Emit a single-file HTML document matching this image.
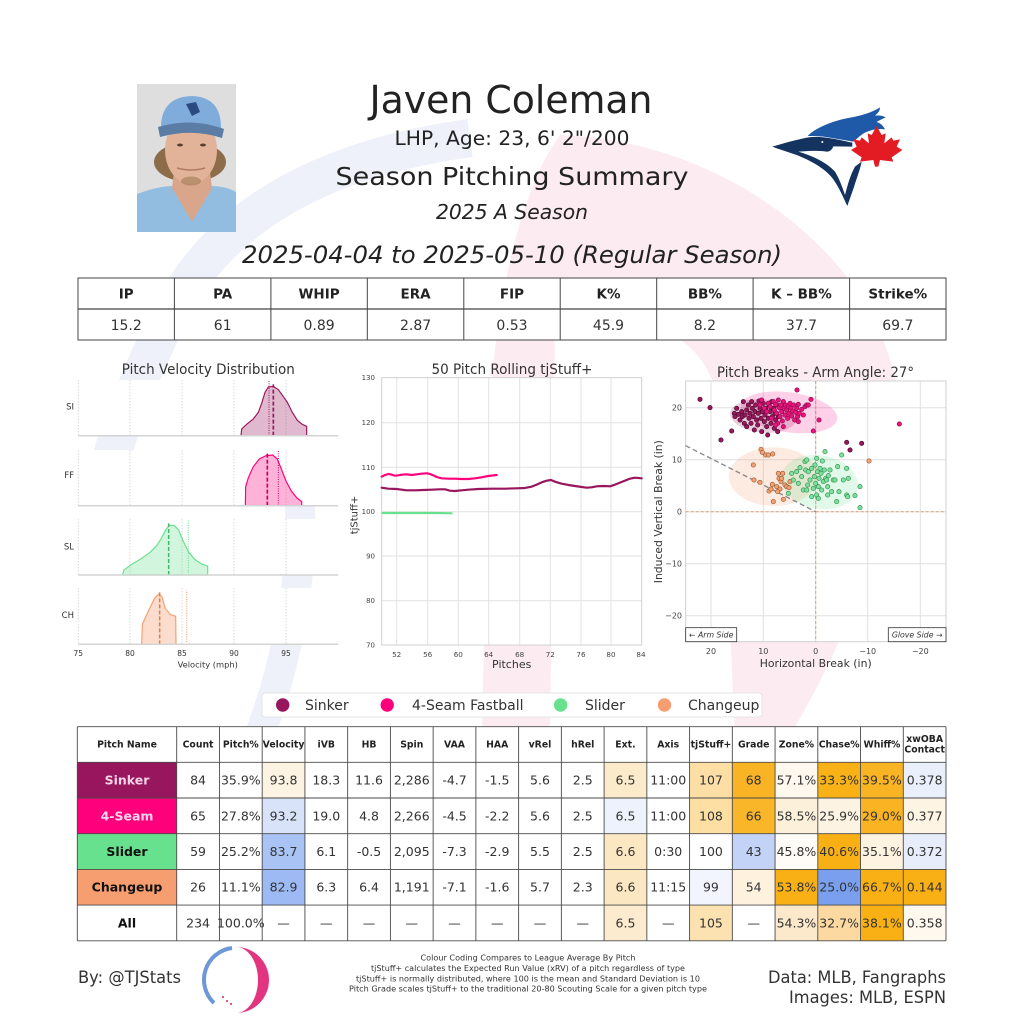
<!DOCTYPE html>
<html><head><meta charset="utf-8"><style>
html,body{margin:0;padding:0;background:#fff;width:1024px;height:1024px;overflow:hidden;}
svg{display:block;}
text{font-family:"DejaVu Sans","Liberation Sans",sans-serif;}
</style></head><body>
<svg width="1024" height="1024" viewBox="0 0 1024 1024" xmlns="http://www.w3.org/2000/svg">
<rect width="1024" height="1024" fill="#fff"/>

<!-- watermark -->
<path d="M470,138 Q240,170 168,318 Q125,405 108,470" fill="none" stroke="#eef0fa" stroke-width="38"/>
<path d="M298,475 Q310,600 258,740" fill="none" stroke="#eef0fa" stroke-width="30"/>
<path d="M560,135 C720,140 870,250 895,380 C905,480 860,620 790,735 L735,735 C728,600 725,450 712,380 C690,320 600,300 555,330 L550,735 L482,735 L488,430 C495,300 520,190 560,135 Z" fill="#fcecf2"/>

<!-- photo -->
<rect x="137" y="84" width="99" height="148" fill="#dedede"/>
<ellipse cx="190" cy="162" rx="36" ry="20" fill="#8d6c4a"/>
<path d="M137,194 Q158,186 174,186 L192,220 L210,186 Q226,186 236,192 L236,232 L137,232 Z" fill="#92bde0"/>
<path d="M174,172 L210,172 L212,188 L192,222 L172,188 Z" fill="#d9a68c"/>
<ellipse cx="191" cy="150" rx="26" ry="34" fill="#e2b398"/>
<ellipse cx="191" cy="181" rx="10" ry="4.5" fill="#9a7350" opacity=".55"/>
<ellipse cx="180" cy="145" rx="3" ry="1.5" fill="#5a4030"/>
<ellipse cx="203" cy="145" rx="3" ry="1.5" fill="#5a4030"/>
<path d="M177,168 Q191,172 205,168" fill="none" stroke="#b07a66" stroke-width="1.5"/>
<path d="M161,130 Q160,97 192,96 Q222,97 221,130 Z" fill="#80acdb"/>
<path d="M158,127 Q192,117 224,129 L222,138 Q192,128 160,137 Z" fill="#5a7ca5"/>
<path d="M186,104 L196,102 L200,112 L192,116 Z" fill="#2a4a80"/>

<!-- Blue Jays logo -->
<g transform="translate(765,100) scale(0.3333)">
<path d="M128,108 C150,85 200,62 260,52 C290,46 320,38 345,22 C345,35 335,42 330,47 C345,45 355,48 362,52 C350,58 340,62 335,66 C348,70 355,78 360,88 C340,85 320,88 300,98 C285,106 275,118 265,125 L190,112 C165,108 145,108 128,108 Z" fill="#1e5aa8"/>
<path d="M22,140 C60,128 100,118 130,112 C160,108 190,112 262,128 L262,140 L205,139 C200,152 190,157 180,154 C160,152 130,152 100,155 C145,168 185,188 210,215 C225,240 233,265 240,285 C248,255 256,225 270,200 L290,185 C285,210 275,235 268,258 L247,318 C235,292 222,262 205,238 C185,210 145,185 95,165 C65,155 42,148 22,140 Z" fill="#14335f"/>
<ellipse cx="175" cy="128" rx="16" ry="11" fill="#14335f"/>
<circle cx="172" cy="126" r="3" fill="#fff"/>
<polygon points="335,78 350,105 362,100 358,130 380,112 385,122 405,118 395,140 412,150 380,172 385,185 345,180 340,200 330,200 325,180 285,185 290,172 258,150 275,140 265,118 285,122 290,112 312,130 308,100 320,105" fill="#e31b23"/>
</g>

<!-- header text -->
<text x="511" y="113" font-size="38" text-anchor="middle" fill="#222" textLength="283" lengthAdjust="spacingAndGlyphs">Javen Coleman</text>
<text x="512" y="145" font-size="19.5" text-anchor="middle" fill="#222" textLength="235" lengthAdjust="spacingAndGlyphs">LHP, Age: 23, 6' 2"/200</text>
<text x="512" y="185" font-size="24.5" text-anchor="middle" fill="#222" textLength="353" lengthAdjust="spacingAndGlyphs">Season Pitching Summary</text>
<text x="512" y="219" font-size="20" font-style="italic" text-anchor="middle" fill="#222" textLength="152" lengthAdjust="spacingAndGlyphs">2025 A Season</text>
<text x="512" y="263" font-size="24" font-style="italic" text-anchor="middle" fill="#222" textLength="540" lengthAdjust="spacingAndGlyphs">2025-04-04 to 2025-05-10 (Regular Season)</text>

<!-- stats table -->
<rect x="78" y="278" width="868" height="62" fill="#fff" stroke="#444" stroke-width="1"/>
<line x1="78" y1="309" x2="946" y2="309" stroke="#444" stroke-width="1.2"/>
<g stroke="#444" stroke-width="1">
<line x1="174.4" y1="278" x2="174.4" y2="340"/><line x1="270.9" y1="278" x2="270.9" y2="340"/>
<line x1="367.3" y1="278" x2="367.3" y2="340"/><line x1="463.8" y1="278" x2="463.8" y2="340"/>
<line x1="560.2" y1="278" x2="560.2" y2="340"/><line x1="656.7" y1="278" x2="656.7" y2="340"/>
<line x1="753.1" y1="278" x2="753.1" y2="340"/><line x1="849.6" y1="278" x2="849.6" y2="340"/>
</g>
<g font-size="13.5" font-weight="bold" text-anchor="middle" fill="#222">
<text x="126.2" y="298.5">IP</text><text x="222.7" y="298.5">PA</text><text x="319.1" y="298.5">WHIP</text>
<text x="415.6" y="298.5">ERA</text><text x="512" y="298.5">FIP</text><text x="608.5" y="298.5">K%</text>
<text x="704.9" y="298.5">BB%</text><text x="801.4" y="298.5">K – BB%</text><text x="897.8" y="298.5">Strike%</text>
</g>
<g font-size="14" text-anchor="middle" fill="#333">
<text x="126.2" y="330">15.2</text><text x="222.7" y="330">61</text><text x="319.1" y="330">0.89</text>
<text x="415.6" y="330">2.87</text><text x="512" y="330">0.53</text><text x="608.5" y="330">45.9</text>
<text x="704.9" y="330">8.2</text><text x="801.4" y="330">37.7</text><text x="897.8" y="330">69.7</text>
</g>

<!-- ===== Velocity distribution ===== -->
<text x="208.3" y="374" font-size="14" text-anchor="middle" fill="#333" textLength="173" lengthAdjust="spacingAndGlyphs">Pitch Velocity Distribution</text>
<g fill="#fff">
<rect x="78" y="380" width="261" height="56"/>
<rect x="78" y="450" width="261" height="56"/>
<rect x="78" y="519" width="261" height="56"/>
<rect x="78" y="588" width="261" height="56"/>
</g>
<g stroke="#cfcfcf" stroke-width="0.8" stroke-dasharray="1.5,1.5">
<line x1="78.3" y1="380" x2="78.3" y2="436"/><line x1="130" y1="380" x2="130" y2="436"/><line x1="182" y1="380" x2="182" y2="436"/><line x1="234" y1="380" x2="234" y2="436"/><line x1="286" y1="380" x2="286" y2="436"/>
<line x1="78.3" y1="450" x2="78.3" y2="506"/><line x1="130" y1="450" x2="130" y2="506"/><line x1="182" y1="450" x2="182" y2="506"/><line x1="234" y1="450" x2="234" y2="506"/><line x1="286" y1="450" x2="286" y2="506"/>
<line x1="78.3" y1="519" x2="78.3" y2="575"/><line x1="130" y1="519" x2="130" y2="575"/><line x1="182" y1="519" x2="182" y2="575"/><line x1="234" y1="519" x2="234" y2="575"/><line x1="286" y1="519" x2="286" y2="575"/>
<line x1="78.3" y1="588" x2="78.3" y2="644"/><line x1="130" y1="588" x2="130" y2="644"/><line x1="182" y1="588" x2="182" y2="644"/><line x1="234" y1="588" x2="234" y2="644"/><line x1="286" y1="588" x2="286" y2="644"/>
</g>
<g transform="translate(60,355) scale(0.33333)">
<path d="M543,242 L545,222 L560,208 L580,192 L595,172 L605,145 L615,112 L625,96 L640,94 L655,104 L668,122 L682,142 L697,172 L712,196 L727,208 L740,214 L740,242 Z" fill="#98165D" fill-opacity="0.3" stroke="#98165D" stroke-width="3.5"/>
<line x1="640" y1="242" x2="640" y2="88" stroke="#98165D" stroke-width="5" stroke-dasharray="12,6"/>
<line x1="627" y1="242" x2="627" y2="78" stroke="#98165D" stroke-width="3" stroke-dasharray="3,4"/>
<path d="M556,452 L557,395 L565,368 L580,335 L598,312 L618,302 L638,300 L652,312 L664,342 L678,378 L694,408 L710,428 L725,440 L725,452 Z" fill="#FF007D" fill-opacity="0.3" stroke="#FF007D" stroke-width="3.5"/>
<line x1="622" y1="452" x2="622" y2="295" stroke="#c0005e" stroke-width="5" stroke-dasharray="12,6"/>
<line x1="655" y1="452" x2="655" y2="285" stroke="#d0006a" stroke-width="3" stroke-dasharray="3,4"/>
<path d="M187,660 L192,645 L215,628 L245,610 L270,592 L290,572 L305,548 L318,523 L328,511 L342,511 L356,525 L368,555 L385,590 L405,614 L425,627 L443,633 L443,660 Z" fill="#67E18D" fill-opacity="0.3" stroke="#67E18D" stroke-width="3.5"/>
<line x1="326" y1="660" x2="326" y2="505" stroke="#3fb868" stroke-width="4.5" stroke-dasharray="12,6"/>
<line x1="385" y1="660" x2="385" y2="495" stroke="#67E18D" stroke-width="3" stroke-dasharray="3,4"/>
<path d="M245,868 L247,808 L256,788 L270,758 L285,728 L297,717 L306,725 L315,758 L330,778 L347,784 L348,868 Z" fill="#F79E70" fill-opacity="0.35" stroke="#F79E70" stroke-width="3.5"/>
<line x1="299" y1="868" x2="299" y2="712" stroke="#d9804f" stroke-width="4.5" stroke-dasharray="12,6"/>
<line x1="380" y1="868" x2="380" y2="705" stroke="#F79E70" stroke-width="3" stroke-dasharray="3,4"/>
</g>
<g stroke="#d4d4d4" stroke-width="1.5">
<line x1="78.3" y1="435.7" x2="338.3" y2="435.7"/><line x1="78.3" y1="505.7" x2="338.3" y2="505.7"/>
<line x1="78.3" y1="575" x2="338.3" y2="575"/><line x1="78.3" y1="644.3" x2="338.3" y2="644.3"/>
</g>
<g font-size="8.5" text-anchor="end" fill="#333">
<text x="74" y="409.7">SI</text><text x="74" y="478">FF</text><text x="74" y="549.7">SL</text><text x="74" y="618">CH</text>
</g>
<g font-size="7.5" text-anchor="middle" fill="#333">
<text x="78.3" y="656">75</text><text x="130" y="656">80</text><text x="182" y="656">85</text><text x="234" y="656">90</text><text x="286" y="656">95</text>
</g>
<text x="207.7" y="667.5" font-size="8.3" text-anchor="middle" fill="#333">Velocity (mph)</text>

<!-- ===== Rolling tjStuff+ ===== -->
<text x="512" y="374" font-size="14.5" text-anchor="middle" fill="#333" textLength="161" lengthAdjust="spacingAndGlyphs">50 Pitch Rolling tjStuff+</text>
<rect x="381.7" y="377.7" width="260" height="267.3" fill="#fff"/>
<g stroke="#e2e2e2" stroke-width="1">
<line x1="396.7" y1="377.7" x2="396.7" y2="645"/><line x1="427.7" y1="377.7" x2="427.7" y2="645"/>
<line x1="458.3" y1="377.7" x2="458.3" y2="645"/><line x1="488.7" y1="377.7" x2="488.7" y2="645"/>
<line x1="519.7" y1="377.7" x2="519.7" y2="645"/><line x1="550.3" y1="377.7" x2="550.3" y2="645"/>
<line x1="581" y1="377.7" x2="581" y2="645"/><line x1="611" y1="377.7" x2="611" y2="645"/>
<line x1="381.7" y1="422.7" x2="641.7" y2="422.7"/><line x1="381.7" y1="467.3" x2="641.7" y2="467.3"/>
<line x1="381.7" y1="511.7" x2="641.7" y2="511.7"/><line x1="381.7" y1="556" x2="641.7" y2="556"/>
<line x1="381.7" y1="600.7" x2="641.7" y2="600.7"/>
</g>
<rect x="381.7" y="377.7" width="260" height="267.3" fill="none" stroke="#d0d0d0" stroke-width="1"/>
<g transform="translate(335,355) scale(0.33333)" fill="none" stroke-linejoin="round" stroke-linecap="round">
<polyline points="140,365 150,360 160,357 170,359 180,362 190,361 200,359 215,358 230,360 245,358 260,356 275,355 285,357 295,361 305,366 320,370 340,371 360,371 380,372 400,372 420,370 440,367 460,363 485,360" stroke="#FF007D" stroke-width="6.5"/>
<polyline points="140,398 160,401 185,402 200,404 215,406 240,406 265,405 290,404 315,403 330,403 345,407 360,408 380,406 400,404 430,402 470,401 510,401 545,400 570,399 590,395 605,389 620,382 635,377 648,375 660,380 680,386 700,390 720,393 740,396 755,398 770,397 785,394 805,393 825,394 840,389 855,383 870,377 885,371 900,368 920,370" stroke="#98165D" stroke-width="6.5"/>
<polyline points="143,474 200,474 260,474 300,474 350,475" stroke="#67E18D" stroke-width="6.5"/>
</g>
<g font-size="7" text-anchor="end" fill="#444">
<text x="375" y="380.2">130</text><text x="375" y="425.2">120</text><text x="375" y="469.8">110</text>
<text x="375" y="514.2">100</text><text x="375" y="558.5">90</text><text x="375" y="603.2">80</text><text x="375" y="647.5">70</text>
</g>
<g font-size="7.2" text-anchor="middle" fill="#444">
<text x="396.7" y="656.8">52</text><text x="427.7" y="656.8">56</text><text x="458.3" y="656.8">60</text>
<text x="488.7" y="656.8">64</text><text x="519.7" y="656.8">68</text><text x="550.3" y="656.8">72</text>
<text x="581" y="656.8">76</text><text x="611" y="656.8">80</text><text x="641" y="656.8">84</text>
</g>
<text x="511.7" y="668" font-size="11" text-anchor="middle" fill="#333">Pitches</text>
<text transform="translate(357.5,515) rotate(-90)" font-size="10" text-anchor="middle" fill="#333">tjStuff+</text>

<!-- ===== Pitch Breaks ===== -->
<text x="815.5" y="377" font-size="14" text-anchor="middle" fill="#333" textLength="197" lengthAdjust="spacingAndGlyphs">Pitch Breaks - Arm Angle: 27°</text>
<rect x="685.7" y="381" width="260.3" height="260.7" fill="#fff"/>
<g stroke="#e0e0e0" stroke-width="1">
<line x1="711" y1="381" x2="711" y2="641.7"/><line x1="763.3" y1="381" x2="763.3" y2="641.7"/>
<line x1="867.7" y1="381" x2="867.7" y2="641.7"/><line x1="920.3" y1="381" x2="920.3" y2="641.7"/>
<line x1="685.7" y1="407.7" x2="946" y2="407.7"/><line x1="685.7" y1="459.7" x2="946" y2="459.7"/>
<line x1="685.7" y1="563.7" x2="946" y2="563.7"/><line x1="685.7" y1="615.7" x2="946" y2="615.7"/>
<line x1="815.7" y1="381" x2="815.7" y2="641.7"/><line x1="685.7" y1="511.7" x2="946" y2="511.7"/>
</g>
<rect x="685.7" y="381" width="260.3" height="260.7" fill="none" stroke="#d0d0d0" stroke-width="1"/>
<line x1="685.7" y1="511.7" x2="946" y2="511.7" stroke="#d9a07c" stroke-width="1" stroke-dasharray="3,2"/>
<line x1="815.7" y1="381" x2="815.7" y2="641.7" stroke="#d9a07c" stroke-width="1" stroke-dasharray="3,2"/>
<g transform="translate(645,355) scale(0.33333)">
<ellipse cx="432" cy="172" rx="146" ry="60" transform="rotate(8 432 172)" fill="#FF007D" fill-opacity="0.18"/>
<ellipse cx="355" cy="183" rx="100" ry="50" transform="rotate(5 355 183)" fill="#98165D" fill-opacity="0.2"/>
<ellipse cx="386" cy="365" rx="134" ry="88" fill="#F79E70" fill-opacity="0.22"/>
<ellipse cx="524" cy="381" rx="116" ry="80" transform="rotate(10 524 381)" fill="#67E18D" fill-opacity="0.2"/>
<line x1="122" y1="272" x2="512" y2="470" stroke="#888" stroke-width="4" stroke-dasharray="15,9"/>
<g fill="#f2a272" stroke="#9b5a35" stroke-width="2">
<circle cx="325" cy="330" r="6.5"/><circle cx="348" cy="283" r="6.5"/><circle cx="352" cy="292" r="6.5"/><circle cx="362" cy="300" r="6.5"/><circle cx="370" cy="300" r="6.5"/><circle cx="383" cy="297" r="6.5"/><circle cx="327" cy="375" r="6.5"/><circle cx="345" cy="382" r="6.5"/><circle cx="372" cy="408" r="6.5"/><circle cx="378" cy="402" r="6.5"/><circle cx="382" cy="388" r="6.5"/><circle cx="395" cy="395" r="6.5"/><circle cx="400" cy="355" r="6.5"/><circle cx="402" cy="370" r="6.5"/><circle cx="405" cy="402" r="6.5"/><circle cx="408" cy="380" r="6.5"/><circle cx="413" cy="355" r="6.5"/><circle cx="420" cy="390" r="6.5"/><circle cx="425" cy="395" r="6.5"/><circle cx="432" cy="398" r="6.5"/><circle cx="385" cy="440" r="6.5"/><circle cx="415" cy="433" r="6.5"/><circle cx="398" cy="410" r="6.5"/><circle cx="435" cy="380" r="6.5"/><circle cx="672" cy="318" r="6.5"/><circle cx="410" cy="370" r="6.5"/>
</g>
<g fill="#7fe09e" stroke="#2f8f50" stroke-width="2">
<circle cx="430" cy="415" r="6.5"/><circle cx="440" cy="355" r="6.5"/><circle cx="445" cy="375" r="6.5"/><circle cx="455" cy="350" r="6.5"/><circle cx="460" cy="385" r="6.5"/><circle cx="465" cy="338" r="6.5"/><circle cx="470" cy="365" r="6.5"/><circle cx="475" cy="405" r="6.5"/><circle cx="480" cy="320" r="6.5"/><circle cx="482" cy="345" r="6.5"/><circle cx="485" cy="315" r="6.5"/><circle cx="488" cy="390" r="6.5"/><circle cx="490" cy="350" r="6.5"/><circle cx="495" cy="375" r="6.5"/><circle cx="500" cy="340" r="6.5"/><circle cx="505" cy="400" r="6.5"/><circle cx="508" cy="365" r="6.5"/><circle cx="510" cy="330" r="6.5"/><circle cx="512" cy="385" r="6.5"/><circle cx="515" cy="310" r="6.5"/><circle cx="515" cy="420" r="6.5"/><circle cx="518" cy="350" r="6.5"/><circle cx="520" cy="395" r="6.5"/><circle cx="522" cy="370" r="6.5"/><circle cx="525" cy="340" r="6.5"/><circle cx="528" cy="355" r="6.5"/><circle cx="530" cy="405" r="6.5"/><circle cx="532" cy="318" r="6.5"/><circle cx="535" cy="380" r="6.5"/><circle cx="538" cy="345" r="6.5"/><circle cx="540" cy="290" r="6.5"/><circle cx="542" cy="370" r="6.5"/><circle cx="545" cy="375" r="6.5"/><circle cx="548" cy="395" r="6.5"/><circle cx="550" cy="362" r="6.5"/><circle cx="555" cy="345" r="6.5"/><circle cx="560" cy="410" r="6.5"/><circle cx="565" cy="375" r="6.5"/><circle cx="570" cy="375" r="6.5"/><circle cx="575" cy="440" r="6.5"/><circle cx="578" cy="335" r="6.5"/><circle cx="582" cy="410" r="6.5"/><circle cx="590" cy="300" r="6.5"/><circle cx="595" cy="375" r="6.5"/><circle cx="605" cy="340" r="6.5"/><circle cx="605" cy="420" r="6.5"/><circle cx="608" cy="425" r="6.5"/><circle cx="610" cy="370" r="6.5"/><circle cx="630" cy="422" r="6.5"/><circle cx="645" cy="395" r="6.5"/><circle cx="645" cy="458" r="6.5"/><circle cx="485" cy="405" r="6.5"/><circle cx="500" cy="425" r="6.5"/><circle cx="520" cy="430" r="6.5"/><circle cx="548" cy="420" r="6.5"/>
</g>
<g fill="#98165D" stroke="#4a0a2d" stroke-width="2">
<circle cx="165" cy="133" r="6.5"/><circle cx="195" cy="158" r="6.5"/><circle cx="228" cy="255" r="6.5"/><circle cx="260" cy="228" r="6.5"/><circle cx="268" cy="175" r="6.5"/><circle cx="270" cy="185" r="6.5"/><circle cx="275" cy="160" r="6.5"/><circle cx="280" cy="178" r="6.5"/><circle cx="285" cy="195" r="6.5"/><circle cx="290" cy="170" r="6.5"/><circle cx="292" cy="185" r="6.5"/><circle cx="295" cy="140" r="6.5"/><circle cx="298" cy="205" r="6.5"/><circle cx="300" cy="180" r="6.5"/><circle cx="305" cy="165" r="6.5"/><circle cx="305" cy="215" r="6.5"/><circle cx="310" cy="150" r="6.5"/><circle cx="312" cy="190" r="6.5"/><circle cx="315" cy="175" r="6.5"/><circle cx="318" cy="205" r="6.5"/><circle cx="320" cy="140" r="6.5"/><circle cx="322" cy="160" r="6.5"/><circle cx="325" cy="185" r="6.5"/><circle cx="328" cy="225" r="6.5"/><circle cx="330" cy="170" r="6.5"/><circle cx="332" cy="150" r="6.5"/><circle cx="335" cy="195" r="6.5"/><circle cx="338" cy="210" r="6.5"/><circle cx="340" cy="175" r="6.5"/><circle cx="342" cy="138" r="6.5"/><circle cx="345" cy="160" r="6.5"/><circle cx="348" cy="190" r="6.5"/><circle cx="350" cy="230" r="6.5"/><circle cx="352" cy="170" r="6.5"/><circle cx="355" cy="145" r="6.5"/><circle cx="358" cy="200" r="6.5"/><circle cx="360" cy="180" r="6.5"/><circle cx="362" cy="160" r="6.5"/><circle cx="365" cy="215" r="6.5"/><circle cx="368" cy="240" r="6.5"/><circle cx="370" cy="190" r="6.5"/><circle cx="372" cy="150" r="6.5"/><circle cx="375" cy="170" r="6.5"/><circle cx="378" cy="205" r="6.5"/><circle cx="380" cy="140" r="6.5"/><circle cx="382" cy="185" r="6.5"/><circle cx="385" cy="160" r="6.5"/><circle cx="388" cy="220" r="6.5"/><circle cx="390" cy="175" r="6.5"/><circle cx="392" cy="195" r="6.5"/><circle cx="395" cy="150" r="6.5"/><circle cx="398" cy="230" r="6.5"/><circle cx="400" cy="185" r="6.5"/><circle cx="605" cy="262" r="6.5"/><circle cx="615" cy="285" r="6.5"/><circle cx="650" cy="265" r="6.5"/>
</g>
<g fill="#e8137c" stroke="#8e0a4c" stroke-width="2">
<circle cx="345" cy="150" r="6.5"/><circle cx="350" cy="135" r="6.5"/><circle cx="358" cy="160" r="6.5"/><circle cx="365" cy="170" r="6.5"/><circle cx="370" cy="145" r="6.5"/><circle cx="375" cy="155" r="6.5"/><circle cx="380" cy="190" r="6.5"/><circle cx="385" cy="140" r="6.5"/><circle cx="388" cy="165" r="6.5"/><circle cx="392" cy="148" r="6.5"/><circle cx="395" cy="175" r="6.5"/><circle cx="398" cy="205" r="6.5"/><circle cx="400" cy="135" r="6.5"/><circle cx="403" cy="158" r="6.5"/><circle cx="405" cy="185" r="6.5"/><circle cx="408" cy="150" r="6.5"/><circle cx="410" cy="170" r="6.5"/><circle cx="412" cy="198" r="6.5"/><circle cx="415" cy="140" r="6.5"/><circle cx="418" cy="160" r="6.5"/><circle cx="420" cy="180" r="6.5"/><circle cx="422" cy="150" r="6.5"/><circle cx="425" cy="165" r="6.5"/><circle cx="428" cy="190" r="6.5"/><circle cx="430" cy="155" r="6.5"/><circle cx="432" cy="175" r="6.5"/><circle cx="435" cy="145" r="6.5"/><circle cx="438" cy="160" r="6.5"/><circle cx="440" cy="183" r="6.5"/><circle cx="443" cy="168" r="6.5"/><circle cx="446" cy="150" r="6.5"/><circle cx="449" cy="195" r="6.5"/><circle cx="452" cy="172" r="6.5"/><circle cx="455" cy="160" r="6.5"/><circle cx="458" cy="185" r="6.5"/><circle cx="460" cy="148" r="6.5"/><circle cx="463" cy="175" r="6.5"/><circle cx="470" cy="163" r="6.5"/><circle cx="475" cy="180" r="6.5"/><circle cx="480" cy="155" r="6.5"/><circle cx="485" cy="150" r="6.5"/><circle cx="490" cy="150" r="6.5"/><circle cx="456" cy="105" r="6.5"/><circle cx="498" cy="133" r="6.5"/><circle cx="505" cy="228" r="6.5"/><circle cx="522" cy="195" r="6.5"/><circle cx="415" cy="215" r="6.5"/><circle cx="392" cy="210" r="6.5"/><circle cx="460" cy="200" r="6.5"/><circle cx="763" cy="207" r="6.5"/>
</g>
</g>
<rect x="685.7" y="627.7" width="51" height="14" fill="#fff" stroke="#333" stroke-width="0.8"/>
<text x="711.2" y="637.6" font-size="7.8" font-style="italic" text-anchor="middle" fill="#333">← Arm Side</text>
<rect x="888.3" y="627.7" width="57.7" height="14" fill="#fff" stroke="#333" stroke-width="0.8"/>
<text x="917.2" y="637.6" font-size="7.8" font-style="italic" text-anchor="middle" fill="#333">Glove Side →</text>
<g font-size="8" text-anchor="end" fill="#444">
<text x="682" y="410.7">20</text><text x="682" y="462.7">10</text><text x="682" y="514.7">0</text><text x="682" y="566.7">−10</text><text x="682" y="618.7">−20</text>
</g>
<g font-size="8" text-anchor="middle" fill="#444">
<text x="711" y="654">20</text><text x="763.3" y="654">10</text><text x="815.7" y="654">0</text><text x="867.7" y="654">−10</text><text x="920.3" y="654">−20</text>
</g>
<text x="815.7" y="667" font-size="11" text-anchor="middle" fill="#333" textLength="112" lengthAdjust="spacingAndGlyphs">Horizontal Break (in)</text>
<text transform="translate(662,511.7) rotate(-90)" font-size="10.7" text-anchor="middle" fill="#333" textLength="143" lengthAdjust="spacingAndGlyphs">Induced Vertical Break (in)</text>

<!-- legend -->
<rect x="262" y="693" width="500" height="24" rx="3" fill="#fff" stroke="#e4e4e4" stroke-width="1"/>
<circle cx="282.7" cy="705" r="6.7" fill="#98165D"/>
<circle cx="387.2" cy="705" r="6.7" fill="#FF007D"/>
<circle cx="560.6" cy="705" r="6.7" fill="#67E18D"/>
<circle cx="664.5" cy="705" r="6.7" fill="#F79E70"/>
<g font-size="14" fill="#333">
<text x="305" y="710">Sinker</text><text x="412" y="710">4-Seam Fastball</text><text x="585" y="710">Slider</text><text x="688" y="710">Changeup</text>
</g>

<!-- ===== Big table ===== -->
<rect x="77.3" y="726.7" width="868.7" height="214.1" fill="#fff"/>
<rect x="77.3" y="762.3" width="99.4" height="35.7" fill="#98165D"/>
<rect x="77.3" y="798" width="99.4" height="35.7" fill="#FF007D"/>
<rect x="77.3" y="833.7" width="99.4" height="35.7" fill="#67E18D"/>
<rect x="77.3" y="869.4" width="99.4" height="35.7" fill="#F79E70"/>
<g>
<rect x="262.18" y="762.3" width="42.74" height="35.7" fill="#FDF3E2"/>
<rect x="604.1" y="762.3" width="42.74" height="35.7" fill="#FCEBCB"/>
<rect x="689.58" y="762.3" width="42.74" height="35.7" fill="#FDDFA6"/>
<rect x="732.32" y="762.3" width="42.74" height="35.7" fill="#F9B425"/>
<rect x="775.06" y="762.3" width="42.74" height="35.7" fill="#FEF8EF"/>
<rect x="817.8" y="762.3" width="42.74" height="35.7" fill="#F8B116"/>
<rect x="860.54" y="762.3" width="42.74" height="35.7" fill="#F9B424"/>
<rect x="903.28" y="762.3" width="42.74" height="35.7" fill="#E9EFFB"/>
<rect x="262.18" y="798" width="42.74" height="35.7" fill="#D8E3FA"/>
<rect x="604.1" y="798" width="42.74" height="35.7" fill="#EEF2FC"/>
<rect x="689.58" y="798" width="42.74" height="35.7" fill="#FDDEA3"/>
<rect x="732.32" y="798" width="42.74" height="35.7" fill="#F9B628"/>
<rect x="775.06" y="798" width="42.74" height="35.7" fill="#FDF0DB"/>
<rect x="817.8" y="798" width="42.74" height="35.7" fill="#FDF3E3"/>
<rect x="860.54" y="798" width="42.74" height="35.7" fill="#F9B323"/>
<rect x="903.28" y="798" width="42.74" height="35.7" fill="#FEF4E3"/>
<rect x="262.18" y="833.7" width="42.74" height="35.7" fill="#A9C3F5"/>
<rect x="604.1" y="833.7" width="42.74" height="35.7" fill="#FCE7C3"/>
<rect x="732.32" y="833.7" width="42.74" height="35.7" fill="#C3D3F7"/>
<rect x="775.06" y="833.7" width="42.74" height="35.7" fill="#FFFCF7"/>
<rect x="817.8" y="833.7" width="42.74" height="35.7" fill="#F8B014"/>
<rect x="860.54" y="833.7" width="42.74" height="35.7" fill="#FEF2E0"/>
<rect x="903.28" y="833.7" width="42.74" height="35.7" fill="#E7EDFB"/>
<rect x="262.18" y="869.4" width="42.74" height="35.7" fill="#9DBAF4"/>
<rect x="604.1" y="869.4" width="42.74" height="35.7" fill="#FCE7C3"/>
<rect x="689.58" y="869.4" width="42.74" height="35.7" fill="#F2F5FD"/>
<rect x="732.32" y="869.4" width="42.74" height="35.7" fill="#FEF2DF"/>
<rect x="775.06" y="869.4" width="42.74" height="35.7" fill="#F8B014"/>
<rect x="817.8" y="869.4" width="42.74" height="35.7" fill="#7A9FEF"/>
<rect x="860.54" y="869.4" width="42.74" height="35.7" fill="#F8B014"/>
<rect x="903.28" y="869.4" width="42.74" height="35.7" fill="#F8B014"/>
<rect x="604.1" y="905.1" width="42.74" height="35.7" fill="#FCEBCF"/>
<rect x="689.58" y="905.1" width="42.74" height="35.7" fill="#FCE2B0"/>
<rect x="775.06" y="905.1" width="42.74" height="35.7" fill="#FCE9CB"/>
<rect x="817.8" y="905.1" width="42.74" height="35.7" fill="#FBD9A0"/>
<rect x="860.54" y="905.1" width="42.74" height="35.7" fill="#F8B014"/>
<rect x="903.28" y="905.1" width="42.74" height="35.7" fill="#FEF8EF"/>
</g>
<g stroke="#4a4a4a" stroke-width="0.9">
<line x1="77.3" y1="726.7" x2="946" y2="726.7"/><line x1="77.3" y1="762.3" x2="946" y2="762.3"/>
<line x1="77.3" y1="798" x2="946" y2="798"/><line x1="77.3" y1="833.7" x2="946" y2="833.7"/>
<line x1="77.3" y1="869.4" x2="946" y2="869.4"/><line x1="77.3" y1="905.1" x2="946" y2="905.1"/>
<line x1="77.3" y1="940.8" x2="946" y2="940.8"/>
<line x1="77.3" y1="726.7" x2="77.3" y2="940.8"/><line x1="176.7" y1="726.7" x2="176.7" y2="940.8"/>
<line x1="219.44" y1="726.7" x2="219.44" y2="940.8"/><line x1="262.18" y1="726.7" x2="262.18" y2="940.8"/>
<line x1="304.92" y1="726.7" x2="304.92" y2="940.8"/><line x1="347.66" y1="726.7" x2="347.66" y2="940.8"/>
<line x1="390.4" y1="726.7" x2="390.4" y2="940.8"/><line x1="433.14" y1="726.7" x2="433.14" y2="940.8"/>
<line x1="475.88" y1="726.7" x2="475.88" y2="940.8"/><line x1="518.62" y1="726.7" x2="518.62" y2="940.8"/>
<line x1="561.36" y1="726.7" x2="561.36" y2="940.8"/><line x1="604.1" y1="726.7" x2="604.1" y2="940.8"/>
<line x1="646.84" y1="726.7" x2="646.84" y2="940.8"/><line x1="689.58" y1="726.7" x2="689.58" y2="940.8"/>
<line x1="732.32" y1="726.7" x2="732.32" y2="940.8"/><line x1="775.06" y1="726.7" x2="775.06" y2="940.8"/>
<line x1="817.8" y1="726.7" x2="817.8" y2="940.8"/><line x1="860.54" y1="726.7" x2="860.54" y2="940.8"/>
<line x1="903.28" y1="726.7" x2="903.28" y2="940.8"/><line x1="946" y1="726.7" x2="946" y2="940.8"/>
</g>
<g font-size="9.3" font-weight="bold" text-anchor="middle" fill="#222">
<text x="127" y="747.7">Pitch Name</text>
<text x="198.07" y="747.7">Count</text><text x="240.81" y="747.7">Pitch%</text><text x="283.55" y="747.7">Velocity</text>
<text x="326.29" y="747.7">iVB</text><text x="369.03" y="747.7">HB</text><text x="411.77" y="747.7">Spin</text>
<text x="454.51" y="747.7">VAA</text><text x="497.25" y="747.7">HAA</text><text x="539.99" y="747.7">vRel</text>
<text x="582.73" y="747.7">hRel</text><text x="625.47" y="747.7">Ext.</text><text x="668.21" y="747.7">Axis</text>
<text x="710.95" y="747.7">tjStuff+</text><text x="753.69" y="747.7">Grade</text><text x="796.43" y="747.7">Zone%</text>
<text x="839.17" y="747.7">Chase%</text><text x="881.91" y="747.7">Whiff%</text>
<text x="924.65" y="742">xwOBA</text><text x="924.65" y="752.5">Contact</text>
</g>
<g font-size="12.5" font-weight="bold" text-anchor="middle">
<text x="127" y="784.6" fill="#f6d3e6">Sinker</text>
<text x="127" y="820.3" fill="#fbd6ea">4-Seam</text>
<text x="127" y="856" fill="#111">Slider</text>
<text x="127" y="891.7" fill="#111">Changeup</text>
<text x="127" y="927.4" fill="#111">All</text>
</g>
<g font-size="12.5" text-anchor="middle" fill="#333">
<text x="198.07" y="784.6">84</text><text x="240.81" y="784.6">35.9%</text><text x="283.55" y="784.6">93.8</text><text x="326.29" y="784.6">18.3</text><text x="369.03" y="784.6">11.6</text><text x="411.77" y="784.6">2,286</text><text x="454.51" y="784.6">-4.7</text><text x="497.25" y="784.6">-1.5</text><text x="539.99" y="784.6">5.6</text><text x="582.73" y="784.6">2.5</text><text x="625.47" y="784.6">6.5</text><text x="668.21" y="784.6">11:00</text><text x="710.95" y="784.6">107</text><text x="753.69" y="784.6">68</text><text x="796.43" y="784.6">57.1%</text><text x="839.17" y="784.6">33.3%</text><text x="881.91" y="784.6">39.5%</text><text x="924.65" y="784.6">0.378</text>

<text x="198.07" y="820.3">65</text><text x="240.81" y="820.3">27.8%</text><text x="283.55" y="820.3">93.2</text><text x="326.29" y="820.3">19.0</text><text x="369.03" y="820.3">4.8</text><text x="411.77" y="820.3">2,266</text><text x="454.51" y="820.3">-4.5</text><text x="497.25" y="820.3">-2.2</text><text x="539.99" y="820.3">5.6</text><text x="582.73" y="820.3">2.5</text><text x="625.47" y="820.3">6.5</text><text x="668.21" y="820.3">11:00</text><text x="710.95" y="820.3">108</text><text x="753.69" y="820.3">66</text><text x="796.43" y="820.3">58.5%</text><text x="839.17" y="820.3">25.9%</text><text x="881.91" y="820.3">29.0%</text><text x="924.65" y="820.3">0.377</text>

<text x="198.07" y="856">59</text><text x="240.81" y="856">25.2%</text><text x="283.55" y="856">83.7</text><text x="326.29" y="856">6.1</text><text x="369.03" y="856">-0.5</text><text x="411.77" y="856">2,095</text><text x="454.51" y="856">-7.3</text><text x="497.25" y="856">-2.9</text><text x="539.99" y="856">5.5</text><text x="582.73" y="856">2.5</text><text x="625.47" y="856">6.6</text><text x="668.21" y="856">0:30</text><text x="710.95" y="856">100</text><text x="753.69" y="856">43</text><text x="796.43" y="856">45.8%</text><text x="839.17" y="856">40.6%</text><text x="881.91" y="856">35.1%</text><text x="924.65" y="856">0.372</text>

<text x="198.07" y="891.7">26</text><text x="240.81" y="891.7">11.1%</text><text x="283.55" y="891.7">82.9</text><text x="326.29" y="891.7">6.3</text><text x="369.03" y="891.7">6.4</text><text x="411.77" y="891.7">1,191</text><text x="454.51" y="891.7">-7.1</text><text x="497.25" y="891.7">-1.6</text><text x="539.99" y="891.7">5.7</text><text x="582.73" y="891.7">2.3</text><text x="625.47" y="891.7">6.6</text><text x="668.21" y="891.7">11:15</text><text x="710.95" y="891.7">99</text><text x="753.69" y="891.7">54</text><text x="796.43" y="891.7">53.8%</text><text x="839.17" y="891.7">25.0%</text><text x="881.91" y="891.7">66.7%</text><text x="924.65" y="891.7">0.144</text>

<text x="198.07" y="927.4">234</text><text x="240.81" y="927.4">100.0%</text><text x="283.55" y="927.4">—</text><text x="326.29" y="927.4">—</text><text x="369.03" y="927.4">—</text><text x="411.77" y="927.4">—</text><text x="454.51" y="927.4">—</text><text x="497.25" y="927.4">—</text><text x="539.99" y="927.4">—</text><text x="582.73" y="927.4">—</text><text x="625.47" y="927.4">6.5</text><text x="668.21" y="927.4">—</text><text x="710.95" y="927.4">105</text><text x="753.69" y="927.4">—</text><text x="796.43" y="927.4">54.3%</text><text x="839.17" y="927.4">32.7%</text><text x="881.91" y="927.4">38.1%</text><text x="924.65" y="927.4">0.358</text>
</g>

<!-- footer -->
<text x="78" y="983" font-size="17" fill="#333" textLength="103" lengthAdjust="spacingAndGlyphs">By: @TJStats</text>
<path d="M236,947 A33,33 0 0 1 236,1013 A22,33 0 0 0 236,947 Z" fill="#e3357f"/>
<path d="M232,948 A32,32 0 0 0 214,1003" fill="none" stroke="#6d97d8" stroke-width="4"/>
<g fill="#e05a7a"><rect x="222" y="996" width="2" height="2"/><rect x="226" y="1000" width="2" height="2"/><rect x="230" y="1003" width="2" height="2"/></g>
<g font-size="8.3" text-anchor="middle" fill="#333">
<text x="528" y="960.5" textLength="215" lengthAdjust="spacingAndGlyphs">Colour Coding Compares to League Average By Pitch</text>
<text x="528" y="971" textLength="314" lengthAdjust="spacingAndGlyphs">tjStuff+ calculates the Expected Run Value (xRV) of a pitch regardless of type</text>
<text x="528" y="981.5" textLength="344" lengthAdjust="spacingAndGlyphs">tjStuff+ is normally distributed, where 100 is the mean and Standard Deviation is 10</text>
<text x="528" y="991.5" textLength="358" lengthAdjust="spacingAndGlyphs">Pitch Grade scales tjStuff+ to the traditional 20-80 Scouting Scale for a given pitch type</text>
</g>
<text x="946" y="983" font-size="17" text-anchor="end" fill="#333" textLength="178" lengthAdjust="spacingAndGlyphs">Data: MLB, Fangraphs</text>
<text x="946" y="1003" font-size="17" text-anchor="end" fill="#333" textLength="157" lengthAdjust="spacingAndGlyphs">Images: MLB, ESPN</text>
</svg>
</body></html>
